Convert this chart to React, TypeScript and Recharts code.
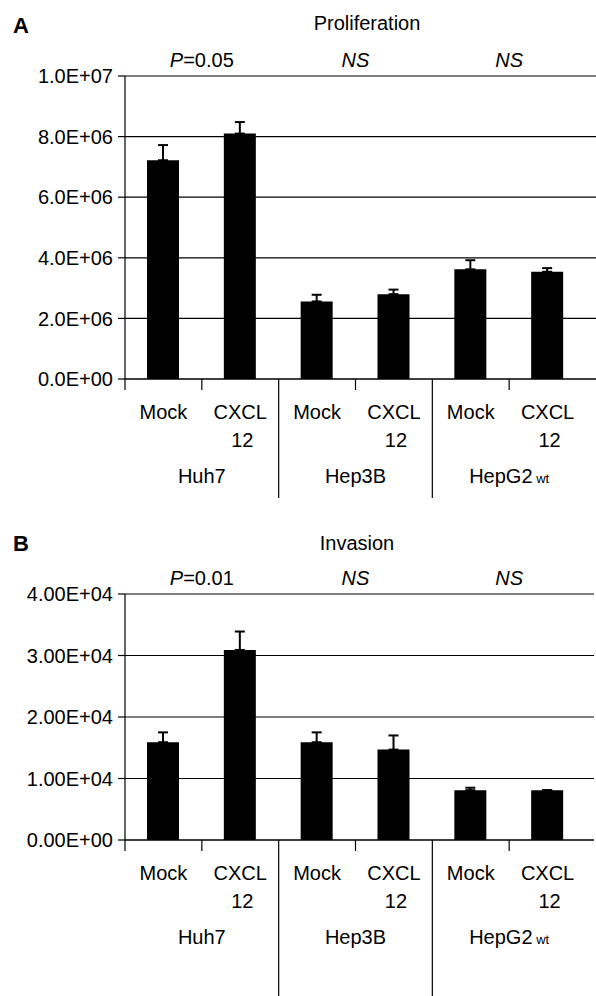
import React from "react";
import {
  Bar,
  BarChart,
  CartesianGrid,
  ErrorBar,
  XAxis,
  YAxis,
} from "recharts";

const FONT = '"Liberation Sans", Arial, Helvetica, sans-serif';

const groups = ["Huh7", "Hep3B", "HepG2"];
const groupSubs = ["", "", "wt"];
const treatments = ["Mock", "CXCL12"];

const proliferation = [7.22e6, 8.1e6, 2.56e6, 2.8e6, 3.62e6, 3.54e6];
const proliferationErr = [0.5e6, 0.38e6, 0.22e6, 0.15e6, 0.3e6, 0.12e6];
const proliferationTicks = [0, 2e6, 4e6, 6e6, 8e6, 1e7];
const proliferationStats = ["P=0.05", "NS", "NS"];

const invasion = [1.59e4, 3.09e4, 1.59e4, 1.47e4, 0.81e4, 0.81e4];
const invasionErr = [0.16e4, 0.3e4, 0.16e4, 0.23e4, 0.04e4, 0];
const invasionTicks = [0, 1e4, 2e4, 3e4, 4e4];
const invasionStats = ["P=0.01", "NS", "NS"];

function buildRows(values: number[], errs: number[]) {
  const rows: any[] = [];
  groups.forEach((g, gi) => {
    treatments.forEach((t, ti) => {
      const i = gi * treatments.length + ti;
      rows.push({ key: `${g} ${t}`, treatment: t, value: values[i], err: [0, errs[i]] });
    });
  });
  return rows;
}

const sci = (digits: number) => (v: number) => {
  if (v === 0) return `${(0).toFixed(digits)}E+00`;
  const e = Math.floor(Math.log10(v) + 1e-9);
  const m = v / Math.pow(10, e);
  return `${m.toFixed(digits)}E+${String(e).padStart(2, "0")}`;
};

function BottomTick(props: any) {
  const { x, y, payload, sepLen } = props;
  const half = payload.offset ?? 38.4;
  const idx = payload.index;
  const isFirst = idx % 2 === 0;
  const gi = Math.floor(idx / 2);
  const long = isFirst && idx > 0;
  return (
    <g>
      <line x1={x - half} x2={x - half} y1={y} y2={y + (long ? sepLen : 11)} stroke="#000" strokeWidth={1.2} />
      {isFirst ? (
        <text x={x} y={y + 40} textAnchor="middle" fontSize={20} fill="#000">Mock</text>
      ) : (
        <g>
          <text x={x} y={y + 40} textAnchor="middle" fontSize={20} fill="#000">CXCL</text>
          <text x={x + 2} y={y + 68} textAnchor="middle" fontSize={20} fill="#000">12</text>
          <text x={x - half} y={y + 104} textAnchor="middle" fontSize={20} fill="#000">
            {groups[gi]}
            {groupSubs[gi] ? <tspan fontSize={13}>{" " + groupSubs[gi]}</tspan> : null}
          </text>
        </g>
      )}
    </g>
  );
}

function TopTick(props: any) {
  const { x, y, payload, stats } = props;
  const half = payload.offset ?? 38.4;
  const idx = payload.index;
  if (idx % 2 === 0) return <g />;
  const s: string = stats[Math.floor(idx / 2)];
  const cx = x - half;
  if (s.startsWith("P=")) {
    return (
      <text x={cx} y={y - 9} textAnchor="middle" fontSize={20} fill="#000">
        <tspan fontStyle="italic">P</tspan>
        {"=" + s.slice(2)}
      </text>
    );
  }
  return (
    <text x={cx} y={y - 9} textAnchor="middle" fontSize={20} fontStyle="italic" fill="#000">
      {s}
    </text>
  );
}

function Panel(props: {
  values: number[];
  errs: number[];
  ticks: number[];
  stats: string[];
  digits: number;
  height: number;
  marginTop: number;
  marginRight: number;
  bottomHeight: number;
  sepLen: number;
  padRight: number;
  border?: boolean;
}) {
  const data = buildRows(props.values, props.errs);
  const max = props.ticks[props.ticks.length - 1];
  return (
    <BarChart
      width={596}
      height={props.height}
      data={data}
      margin={{ top: props.marginTop, right: props.marginRight, bottom: 0, left: 0 }}
      barSize={32}
    >
      <CartesianGrid vertical={false} stroke="#000" strokeWidth={1.2} />
      <XAxis
        xAxisId="top"
        orientation="top"
        dataKey="key"
        height={30}
        axisLine={false}
        tickLine={false}
        tickSize={0}
        tickMargin={0}
        interval={0}
        padding={{ left: 0, right: props.padRight }}
        tick={(p: any) => <TopTick {...p} stats={props.stats} />}
      />
      <XAxis
        dataKey="key"
        height={props.bottomHeight}
        axisLine={{ stroke: "#000", strokeWidth: 1.2 }}
        tickLine={false}
        tickSize={0}
        tickMargin={0}
        interval={0}
        padding={{ left: 0, right: props.padRight }}
        tick={(p: any) => <BottomTick {...p} sepLen={props.sepLen} />}
      />
      <YAxis
        width={125}
        domain={[0, max]}
        ticks={props.ticks}
        interval={0}
        tickFormatter={sci(props.digits)}
        axisLine={{ stroke: "#000", strokeWidth: 1.2 }}
        tickLine={{ stroke: "#000", strokeWidth: 1.2 }}
        tickSize={7}
        tickMargin={5}
        tick={{ fill: "#000", fontSize: 20 }}
      />
      {props.border ? (
        <YAxis
          yAxisId="r"
          orientation="right"
          width={0}
          domain={[0, max]}
          tick={false}
          tickLine={false}
          axisLine={{ stroke: "#000", strokeWidth: 1.2 }}
        />
      ) : null}
      <Bar dataKey="value" fill="#000" isAnimationActive={false}>
        <ErrorBar
          dataKey="err"
          direction="y"
          width={5}
          stroke="#000"
          strokeWidth={2}
          isAnimationActive={false}
        />
      </Bar>
    </BarChart>
  );
}

export default function App() {
  return (
    <div
      style={{
        position: "absolute",
        left: 0,
        top: 0,
        width: 596,
        height: 996,
        background: "#fff",
        fontFamily: FONT,
        overflow: "hidden",
      }}
    >
      <div style={{ position: "absolute", left: 0, top: 0 }}>
        <Panel
          values={proliferation}
          errs={proliferationErr}
          ticks={proliferationTicks}
          stats={proliferationStats}
          digits={1}
          height={499}
          marginTop={46}
          marginRight={0}
          bottomHeight={120}
          sepLen={119}
          padRight={10}
        />
      </div>
      <div style={{ position: "absolute", left: 0, top: 500 }}>
        <Panel
          values={invasion}
          errs={invasionErr}
          ticks={invasionTicks}
          stats={invasionStats}
          digits={2}
          height={496}
          marginTop={64}
          marginRight={2}
          bottomHeight={156}
          sepLen={160}
          padRight={8}
          border
        />
      </div>
      <svg
        width={596}
        height={996}
        style={{ position: "absolute", left: 0, top: 0, pointerEvents: "none" }}
      >
        <text x={13} y={33} fontSize={22} fontWeight="bold" fill="#000">A</text>
        <text x={367} y={30} fontSize={20} textAnchor="middle" fill="#000">Proliferation</text>
        <text x={13} y={551} fontSize={22} fontWeight="bold" fill="#000">B</text>
        <text x={357} y={550} fontSize={20} textAnchor="middle" fill="#000">Invasion</text>
      </svg>
    </div>
  );
}
